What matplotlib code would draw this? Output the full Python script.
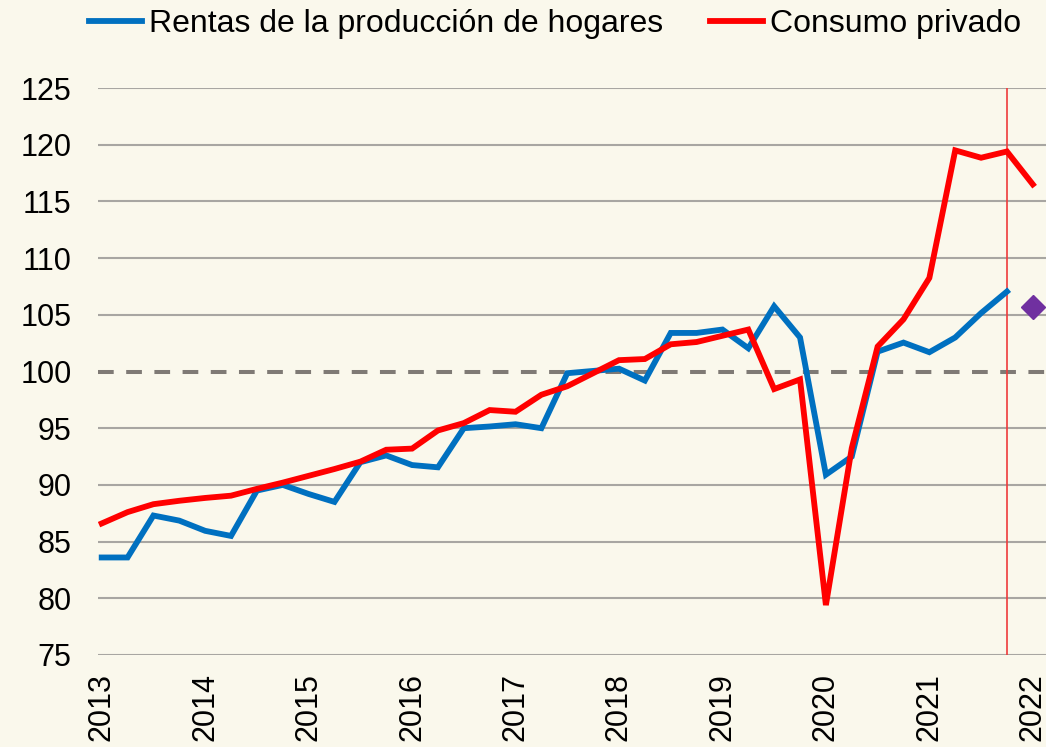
import matplotlib
matplotlib.use("Agg")
import matplotlib.pyplot as plt

plt.rcParams["font.family"] = ["Liberation Sans", "DejaVu Sans"]

# quarterly index, 2013T1 .. 2022T1
years = ["2013", "2014", "2015", "2016", "2017",
         "2018", "2019", "2020", "2021", "2022"]
rentas = [83.6, 83.6, 87.3, 86.85, 85.95, 85.5, 89.5, 90.0, 89.2, 88.5,
          92.0, 92.6, 91.75, 91.55, 95.0, 95.15, 95.35, 95.0, 99.85, 100.05,
          100.25, 99.2, 103.4, 103.4, 103.7, 102.05, 105.75, 103.0, 90.9, 92.5,
          101.75, 102.55, 101.7, 103.0, 105.15, 107.05]
consumo = [86.6, 87.6, 88.3, 88.6, 88.85, 89.05, 89.65, 90.2, 90.8, 91.4,
           92.05, 93.1, 93.2, 94.8, 95.45, 96.6, 96.45, 97.95, 98.7, 99.85,
           101.0, 101.1, 102.4, 102.6, 103.15, 103.7, 98.45, 99.3, 79.4, 93.25,
           102.2, 104.6, 108.25, 119.5, 118.85, 119.4, 116.5]
prevision = 105.7
base = 100

bg = "#FAF8EC"
x_rentas = list(range(len(rentas)))
x_consumo = list(range(len(consumo)))
last_obs = len(rentas) - 1

fig = plt.figure(figsize=(10.46, 7.47), dpi=100, facecolor=bg)
ax = fig.add_axes([98 / 1046, 92 / 747, 948 / 1046, 567 / 747])
ax.set_facecolor(bg)

for v in range(75, 126, 5):
    if v != base:
        ax.axhline(v, color="#A8A6A2", lw=1.5, zorder=1)
ax.axhline(base, color="#7F7A75", lw=2.9, dashes=(3.9, 3.1), zorder=2)
ax.axvline(last_obs, color="#EE3B3B", lw=1.2, zorder=2)

ax.plot(x_rentas, rentas, color="#0070C0", lw=4.2,
        solid_joinstyle="miter", label="Rentas de la producción de hogares",
        zorder=3)
ax.plot(x_consumo, consumo, color="#FF0000", lw=4.2,
        solid_joinstyle="miter", label="Consumo privado", zorder=4)
ax.plot([len(consumo) - 1], [prevision], marker="D", color="#7030A0",
        markersize=12, linestyle="none", zorder=5)

ax.set_xlim(-0.143, 36.51)
ax.set_ylim(75, 125)
ax.set_yticks(range(75, 126, 5))
ax.set_xticks(range(0, 4 * len(years), 4))
ax.set_xticklabels(years, rotation=90)
ax.tick_params(axis="y", length=0, pad=19, labelsize=22)
ax.tick_params(axis="x", length=0, pad=13, labelsize=22)
for s in ax.spines.values():
    s.set_visible(False)

fig.legend(loc="center left",
           bbox_to_anchor=(89 / 1046, 1 - 24 / 747),
           ncol=2, frameon=False, fontsize=23,
           handlelength=1.65, handletextpad=0.22, columnspacing=1.47,
           borderpad=0, borderaxespad=0)

plt.savefig("out.png", dpi=100, facecolor=bg)
